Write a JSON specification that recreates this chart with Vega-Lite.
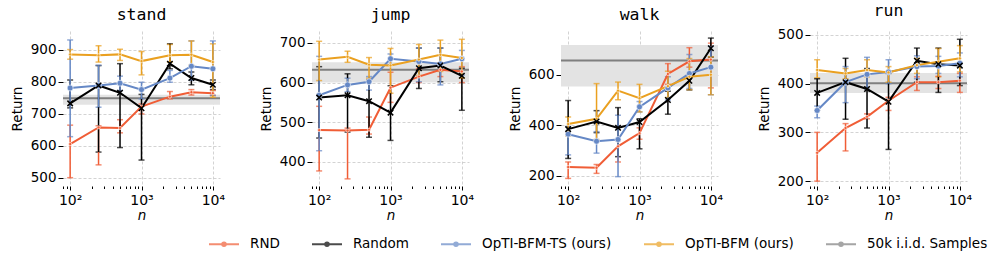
{
  "$schema": "https://vega.github.io/schema/vega-lite/v6.json",
  "padding": {"left": 10, "top": 3, "right": 5, "bottom": 5},
  "bounds": "flush",
  "spacing": 92,
  "config": {
    "font": "DejaVu Sans",
    "view": {"stroke": null},
    "axis": {"domain": false, "labelFont": "DejaVu Sans", "labelFontSize": 13.5, "labelColor": "#000", "titleFont": "DejaVu Sans", "titleFontSize": 13.5, "titleFontWeight": "normal", "titleColor": "#000", "tickColor": "#000", "tickWidth": 1, "gridColor": "#c8c8c8", "gridDash": [3, 2], "gridWidth": 0.8, "labelOverlap": false},
    "axisY": {"tickSize": 5, "labelPadding": 2, "titlePadding": 6},
    "title": {"font": "DejaVu Sans Mono", "fontSize": 16.5, "fontWeight": "normal", "color": "#000", "offset": 8},
    "legend": {"orient": "none", "legendX": 145, "legendY": 197, "direction": "horizontal", "title": null, "symbolType": "M-1,0H1M0.12,0A0.12,0.12,0,1,1,-0.12,0A0.12,0.12,0,1,1,0.12,0", "symbolSize": 900, "symbolStrokeWidth": 2, "labelFontSize": 13.5, "labelColor": "#000", "labelFont": "DejaVu Sans", "columnPadding": 28, "labelOffset": 10}
  },
  "datasets": {
    "d": [
      {"t":"stand","m":"RND","n":100,"y":605,"lo":500,"hi":664},
      {"t":"stand","m":"RND","n":250,"y":657,"lo":540,"hi":662},
      {"t":"stand","m":"RND","n":500,"y":655,"lo":640,"hi":681},
      {"t":"stand","m":"RND","n":1000,"y":722,"lo":699,"hi":730},
      {"t":"stand","m":"RND","n":2500,"y":753,"lo":746,"hi":769},
      {"t":"stand","m":"RND","n":5000,"y":767,"lo":758,"hi":775},
      {"t":"stand","m":"RND","n":10000,"y":764,"lo":757,"hi":772},
      {"t":"stand","m":"Random","n":100,"y":732,"lo":718,"hi":805},
      {"t":"stand","m":"Random","n":250,"y":788,"lo":580,"hi":850},
      {"t":"stand","m":"Random","n":500,"y":765,"lo":594,"hi":856},
      {"t":"stand","m":"Random","n":1000,"y":717,"lo":555,"hi":760},
      {"t":"stand","m":"Random","n":2500,"y":856,"lo":840,"hi":918},
      {"t":"stand","m":"Random","n":5000,"y":811,"lo":790,"hi":830},
      {"t":"stand","m":"Random","n":10000,"y":790,"lo":775,"hi":805},
      {"t":"stand","m":"OpTI-BFM-TS (ours)","n":100,"y":780,"lo":628,"hi":930},
      {"t":"stand","m":"OpTI-BFM-TS (ours)","n":250,"y":788,"lo":720,"hi":851},
      {"t":"stand","m":"OpTI-BFM-TS (ours)","n":500,"y":795,"lo":772,"hi":817},
      {"t":"stand","m":"OpTI-BFM-TS (ours)","n":1000,"y":775,"lo":746,"hi":798},
      {"t":"stand","m":"OpTI-BFM-TS (ours)","n":2500,"y":811,"lo":798,"hi":835},
      {"t":"stand","m":"OpTI-BFM-TS (ours)","n":5000,"y":848,"lo":804,"hi":927},
      {"t":"stand","m":"OpTI-BFM-TS (ours)","n":10000,"y":840,"lo":757,"hi":927},
      {"t":"stand","m":"OpTI-BFM (ours)","n":100,"y":885,"lo":870,"hi":900},
      {"t":"stand","m":"OpTI-BFM (ours)","n":250,"y":882,"lo":861,"hi":912},
      {"t":"stand","m":"OpTI-BFM (ours)","n":500,"y":885,"lo":866,"hi":901},
      {"t":"stand","m":"OpTI-BFM (ours)","n":1000,"y":864,"lo":821,"hi":894},
      {"t":"stand","m":"OpTI-BFM (ours)","n":2500,"y":882,"lo":861,"hi":916},
      {"t":"stand","m":"OpTI-BFM (ours)","n":5000,"y":884,"lo":851,"hi":927},
      {"t":"stand","m":"OpTI-BFM (ours)","n":10000,"y":861,"lo":751,"hi":918},
      {"t":"stand","m":"50k i.i.d. Samples","y":748,"lo":728,"hi":759},

      {"t":"jump","m":"RND","n":100,"y":480,"lo":377,"hi":540},
      {"t":"jump","m":"RND","n":250,"y":479,"lo":357,"hi":485},
      {"t":"jump","m":"RND","n":500,"y":481,"lo":470,"hi":513},
      {"t":"jump","m":"RND","n":1000,"y":587,"lo":550,"hi":626},
      {"t":"jump","m":"RND","n":2500,"y":615,"lo":600,"hi":635},
      {"t":"jump","m":"RND","n":5000,"y":632,"lo":615,"hi":650},
      {"t":"jump","m":"RND","n":10000,"y":628,"lo":600,"hi":640},
      {"t":"jump","m":"Random","n":100,"y":562,"lo":460,"hi":640},
      {"t":"jump","m":"Random","n":250,"y":568,"lo":475,"hi":622},
      {"t":"jump","m":"Random","n":500,"y":553,"lo":462,"hi":606},
      {"t":"jump","m":"Random","n":1000,"y":524,"lo":454,"hi":592},
      {"t":"jump","m":"Random","n":2500,"y":636,"lo":585,"hi":687},
      {"t":"jump","m":"Random","n":5000,"y":643,"lo":602,"hi":687},
      {"t":"jump","m":"Random","n":10000,"y":617,"lo":530,"hi":636},
      {"t":"jump","m":"OpTI-BFM-TS (ours)","n":100,"y":568,"lo":428,"hi":666},
      {"t":"jump","m":"OpTI-BFM-TS (ours)","n":250,"y":594,"lo":577,"hi":611},
      {"t":"jump","m":"OpTI-BFM-TS (ours)","n":500,"y":602,"lo":581,"hi":615},
      {"t":"jump","m":"OpTI-BFM-TS (ours)","n":1000,"y":660,"lo":645,"hi":672},
      {"t":"jump","m":"OpTI-BFM-TS (ours)","n":2500,"y":653,"lo":602,"hi":687},
      {"t":"jump","m":"OpTI-BFM-TS (ours)","n":5000,"y":647,"lo":594,"hi":687},
      {"t":"jump","m":"OpTI-BFM-TS (ours)","n":10000,"y":660,"lo":619,"hi":681},
      {"t":"jump","m":"OpTI-BFM (ours)","n":100,"y":658,"lo":605,"hi":704},
      {"t":"jump","m":"OpTI-BFM (ours)","n":250,"y":665,"lo":651,"hi":679},
      {"t":"jump","m":"OpTI-BFM (ours)","n":500,"y":645,"lo":611,"hi":663},
      {"t":"jump","m":"OpTI-BFM (ours)","n":1000,"y":643,"lo":573,"hi":686},
      {"t":"jump","m":"OpTI-BFM (ours)","n":2500,"y":658,"lo":618,"hi":696},
      {"t":"jump","m":"OpTI-BFM (ours)","n":5000,"y":670,"lo":628,"hi":707},
      {"t":"jump","m":"OpTI-BFM (ours)","n":10000,"y":662,"lo":611,"hi":709},
      {"t":"jump","m":"50k i.i.d. Samples","y":632,"lo":600,"hi":651},

      {"t":"walk","m":"RND","n":100,"y":235,"lo":190,"hi":255},
      {"t":"walk","m":"RND","n":250,"y":232,"lo":210,"hi":245},
      {"t":"walk","m":"RND","n":500,"y":317,"lo":255,"hi":340},
      {"t":"walk","m":"RND","n":1000,"y":369,"lo":345,"hi":390},
      {"t":"walk","m":"RND","n":2500,"y":603,"lo":562,"hi":644},
      {"t":"walk","m":"RND","n":5000,"y":653,"lo":630,"hi":707},
      {"t":"walk","m":"RND","n":10000,"y":660,"lo":548,"hi":725},
      {"t":"walk","m":"Random","n":100,"y":385,"lo":269,"hi":498},
      {"t":"walk","m":"Random","n":250,"y":415,"lo":371,"hi":458},
      {"t":"walk","m":"Random","n":500,"y":390,"lo":276,"hi":470},
      {"t":"walk","m":"Random","n":1000,"y":413,"lo":307,"hi":426},
      {"t":"walk","m":"Random","n":2500,"y":500,"lo":444,"hi":535},
      {"t":"walk","m":"Random","n":5000,"y":576,"lo":540,"hi":590},
      {"t":"walk","m":"Random","n":10000,"y":705,"lo":670,"hi":745},
      {"t":"walk","m":"OpTI-BFM-TS (ours)","n":100,"y":365,"lo":283,"hi":395},
      {"t":"walk","m":"OpTI-BFM-TS (ours)","n":250,"y":337,"lo":290,"hi":375},
      {"t":"walk","m":"OpTI-BFM-TS (ours)","n":500,"y":344,"lo":197,"hi":440},
      {"t":"walk","m":"OpTI-BFM-TS (ours)","n":1000,"y":473,"lo":453,"hi":494},
      {"t":"walk","m":"OpTI-BFM-TS (ours)","n":2500,"y":548,"lo":500,"hi":592},
      {"t":"walk","m":"OpTI-BFM-TS (ours)","n":5000,"y":605,"lo":546,"hi":680},
      {"t":"walk","m":"OpTI-BFM-TS (ours)","n":10000,"y":630,"lo":521,"hi":712},
      {"t":"walk","m":"OpTI-BFM (ours)","n":100,"y":405,"lo":358,"hi":433},
      {"t":"walk","m":"OpTI-BFM (ours)","n":250,"y":426,"lo":344,"hi":565},
      {"t":"walk","m":"OpTI-BFM (ours)","n":500,"y":537,"lo":501,"hi":571},
      {"t":"walk","m":"OpTI-BFM (ours)","n":1000,"y":507,"lo":453,"hi":562},
      {"t":"walk","m":"OpTI-BFM (ours)","n":2500,"y":555,"lo":510,"hi":614},
      {"t":"walk","m":"OpTI-BFM (ours)","n":5000,"y":592,"lo":541,"hi":664},
      {"t":"walk","m":"OpTI-BFM (ours)","n":10000,"y":600,"lo":521,"hi":671},
      {"t":"walk","m":"50k i.i.d. Samples","y":656,"lo":554,"hi":718},

      {"t":"run","m":"RND","n":100,"y":258,"lo":200,"hi":300},
      {"t":"run","m":"RND","n":250,"y":309,"lo":262,"hi":318},
      {"t":"run","m":"RND","n":500,"y":332,"lo":328,"hi":338},
      {"t":"run","m":"RND","n":1000,"y":365,"lo":345,"hi":372},
      {"t":"run","m":"RND","n":2500,"y":403,"lo":386,"hi":414},
      {"t":"run","m":"RND","n":5000,"y":403,"lo":390,"hi":415},
      {"t":"run","m":"RND","n":10000,"y":406,"lo":382,"hi":421},
      {"t":"run","m":"Random","n":100,"y":381,"lo":345,"hi":410},
      {"t":"run","m":"Random","n":250,"y":403,"lo":327,"hi":452},
      {"t":"run","m":"Random","n":500,"y":389,"lo":309,"hi":431},
      {"t":"run","m":"Random","n":1000,"y":363,"lo":265,"hi":421},
      {"t":"run","m":"Random","n":2500,"y":447,"lo":403,"hi":473},
      {"t":"run","m":"Random","n":5000,"y":440,"lo":382,"hi":473},
      {"t":"run","m":"Random","n":10000,"y":437,"lo":396,"hi":491},
      {"t":"run","m":"OpTI-BFM-TS (ours)","n":100,"y":345,"lo":330,"hi":354},
      {"t":"run","m":"OpTI-BFM-TS (ours)","n":250,"y":403,"lo":361,"hi":435},
      {"t":"run","m":"OpTI-BFM-TS (ours)","n":500,"y":419,"lo":389,"hi":454},
      {"t":"run","m":"OpTI-BFM-TS (ours)","n":1000,"y":424,"lo":400,"hi":449},
      {"t":"run","m":"OpTI-BFM-TS (ours)","n":2500,"y":435,"lo":410,"hi":457},
      {"t":"run","m":"OpTI-BFM-TS (ours)","n":5000,"y":436,"lo":421,"hi":456},
      {"t":"run","m":"OpTI-BFM-TS (ours)","n":10000,"y":442,"lo":414,"hi":463},
      {"t":"run","m":"OpTI-BFM (ours)","n":100,"y":428,"lo":412,"hi":449},
      {"t":"run","m":"OpTI-BFM (ours)","n":250,"y":421,"lo":410,"hi":431},
      {"t":"run","m":"OpTI-BFM (ours)","n":500,"y":428,"lo":414,"hi":449},
      {"t":"run","m":"OpTI-BFM (ours)","n":1000,"y":423,"lo":403,"hi":435},
      {"t":"run","m":"OpTI-BFM (ours)","n":2500,"y":438,"lo":421,"hi":452},
      {"t":"run","m":"OpTI-BFM (ours)","n":5000,"y":445,"lo":414,"hi":472},
      {"t":"run","m":"OpTI-BFM (ours)","n":10000,"y":452,"lo":424,"hi":478},
      {"t":"run","m":"50k i.i.d. Samples","y":401,"lo":381,"hi":422}
    ]
  },
  "hconcat": [
    {
      "title": "stand", "width": 157, "height": 155,
      "data": {"name": "d"},
      "transform": [{"filter": "datum.t=='stand'"}],
      "layer": [
        {"transform": [{"filter": "datum.m=='50k i.i.d. Samples'"}], "mark": {"type": "rect", "color": "#e3e3e3"},
         "encoding": {"y": {"field": "lo", "type": "quantitative", "title": "Return", "scale": {"domain": [474, 958], "nice": false, "zero": false}, "axis": {"values": [500, 600, 700, 800, 900], "title": "Return"}}, "y2": {"field": "hi"}}},
        {"transform": [{"filter": "datum.m=='50k i.i.d. Samples'"}], "mark": {"type": "rule", "color": "#7f7f7f", "strokeWidth": 2},
         "encoding": {"y": {"field": "y", "type": "quantitative", "title": "Return", "scale": {"domain": [474, 958], "nice": false, "zero": false}, "axis": {"values": [500, 600, 700, 800, 900], "title": "Return"}}}},
        {"transform": [{"filter": "datum.m!='50k i.i.d. Samples'"}], "mark": {"type": "errorbar", "ticks": true, "size": 6, "thickness": 1.5},
         "encoding": {"x": {"field": "n", "type": "quantitative", "title": "n", "scale": {"type": "log", "domain": [79.4, 12590], "nice": false},
           "axis": {"values": [80, 90, 100, 200, 300, 400, 500, 600, 700, 800, 900, 1000, 2000, 3000, 4000, 5000, 6000, 7000, 8000, 9000, 10000], "labelExpr": "datum.value==100?'10²':datum.value==1000?'10³':datum.value==10000?'10⁴':''", "labelFontSize": 14, "labelPadding": 3, "title": "n", "titleFontStyle": "italic", "titlePadding": 1, "gridOpacity": {"condition": {"test": "datum.value==100||datum.value==1000||datum.value==10000", "value": 1}, "value": 0}, "tickSize": {"condition": {"test": "datum.value==100||datum.value==1000||datum.value==10000", "value": 4}, "value": 2.5}}},
           "y": {"field": "lo", "type": "quantitative", "title": "Return", "scale": {"domain": [474, 958], "nice": false, "zero": false}, "axis": {"values": [500, 600, 700, 800, 900], "title": "Return"}}, "y2": {"field": "hi"},
           "color": {"field": "m", "type": "nominal"}}},
        {"transform": [{"filter": "datum.m!='50k i.i.d. Samples'"}], "mark": {"type": "line", "strokeWidth": 2},
         "encoding": {"x": {"field": "n", "type": "quantitative", "title": "n"}, "y": {"field": "y", "type": "quantitative", "title": "Return", "scale": {"domain": [474, 958], "nice": false, "zero": false}, "axis": {"values": [500, 600, 700, 800, 900], "title": "Return"}},
           "color": {"field": "m", "type": "nominal", "scale": {"domain": ["RND", "Random", "OpTI-BFM-TS (ours)", "OpTI-BFM (ours)", "50k i.i.d. Samples"], "range": ["#f05d36", "#000000", "#6588c6", "#eaa020", "#7f7f7f"]}}}},
        {"transform": [{"filter": "datum.m!='50k i.i.d. Samples' && datum.m!='Random'"}], "mark": {"type": "point", "filled": true, "shape": "circle", "stroke": "#fff", "strokeWidth": 0.6, "opacity": 1},
         "encoding": {"x": {"field": "n", "type": "quantitative", "title": "n"}, "y": {"field": "y", "type": "quantitative", "title": "Return", "scale": {"domain": [474, 958], "nice": false, "zero": false}, "axis": {"values": [500, 600, 700, 800, 900], "title": "Return"}},
           "color": {"field": "m", "type": "nominal"},
           "size": {"condition": {"test": "datum.m=='OpTI-BFM-TS (ours)'", "value": 36}, "value": 10}}},
        {"transform": [{"filter": "datum.m=='Random'"}], "mark": {"type": "point", "filled": false, "shape": "M-1,-1L1,1M1,-1L-1,1", "size": 30, "strokeWidth": 1.5, "color": "#000", "opacity": 1},
         "encoding": {"x": {"field": "n", "type": "quantitative", "title": "n"}, "y": {"field": "y", "type": "quantitative", "title": "Return", "scale": {"domain": [474, 958], "nice": false, "zero": false}, "axis": {"values": [500, 600, 700, 800, 900], "title": "Return"}}}}
      ]
    },
    {
      "title": "jump", "width": 157, "height": 155,
      "data": {"name": "d"},
      "transform": [{"filter": "datum.t=='jump'"}],
      "layer": [
        {"transform": [{"filter": "datum.m=='50k i.i.d. Samples'"}], "mark": {"type": "rect", "color": "#e3e3e3"},
         "encoding": {"y": {"field": "lo", "type": "quantitative", "title": "Return", "scale": {"domain": [339, 730], "nice": false, "zero": false}, "axis": {"values": [400, 500, 600, 700], "title": "Return"}}, "y2": {"field": "hi"}}},
        {"transform": [{"filter": "datum.m=='50k i.i.d. Samples'"}], "mark": {"type": "rule", "color": "#7f7f7f", "strokeWidth": 2},
         "encoding": {"y": {"field": "y", "type": "quantitative", "title": "Return", "scale": {"domain": [339, 730], "nice": false, "zero": false}, "axis": {"values": [400, 500, 600, 700], "title": "Return"}}}},
        {"transform": [{"filter": "datum.m!='50k i.i.d. Samples'"}], "mark": {"type": "errorbar", "ticks": true, "size": 6, "thickness": 1.5},
         "encoding": {"x": {"field": "n", "type": "quantitative", "title": "n", "scale": {"type": "log", "domain": [79.4, 12590], "nice": false},
           "axis": {"values": [80, 90, 100, 200, 300, 400, 500, 600, 700, 800, 900, 1000, 2000, 3000, 4000, 5000, 6000, 7000, 8000, 9000, 10000], "labelExpr": "datum.value==100?'10²':datum.value==1000?'10³':datum.value==10000?'10⁴':''", "labelFontSize": 14, "labelPadding": 3, "title": "n", "titleFontStyle": "italic", "titlePadding": 1, "gridOpacity": {"condition": {"test": "datum.value==100||datum.value==1000||datum.value==10000", "value": 1}, "value": 0}, "tickSize": {"condition": {"test": "datum.value==100||datum.value==1000||datum.value==10000", "value": 4}, "value": 2.5}}},
           "y": {"field": "lo", "type": "quantitative", "title": "Return", "scale": {"domain": [339, 730], "nice": false, "zero": false}, "axis": {"values": [400, 500, 600, 700], "title": "Return"}}, "y2": {"field": "hi"},
           "color": {"field": "m", "type": "nominal"}}},
        {"transform": [{"filter": "datum.m!='50k i.i.d. Samples'"}], "mark": {"type": "line", "strokeWidth": 2},
         "encoding": {"x": {"field": "n", "type": "quantitative", "title": "n"}, "y": {"field": "y", "type": "quantitative", "title": "Return", "scale": {"domain": [339, 730], "nice": false, "zero": false}, "axis": {"values": [400, 500, 600, 700], "title": "Return"}},
           "color": {"field": "m", "type": "nominal"}}},
        {"transform": [{"filter": "datum.m!='50k i.i.d. Samples' && datum.m!='Random'"}], "mark": {"type": "point", "filled": true, "shape": "circle", "stroke": "#fff", "strokeWidth": 0.6, "opacity": 1},
         "encoding": {"x": {"field": "n", "type": "quantitative", "title": "n"}, "y": {"field": "y", "type": "quantitative", "title": "Return", "scale": {"domain": [339, 730], "nice": false, "zero": false}, "axis": {"values": [400, 500, 600, 700], "title": "Return"}},
           "color": {"field": "m", "type": "nominal"},
           "size": {"condition": {"test": "datum.m=='OpTI-BFM-TS (ours)'", "value": 36}, "value": 10}}},
        {"transform": [{"filter": "datum.m=='Random'"}], "mark": {"type": "point", "filled": false, "shape": "M-1,-1L1,1M1,-1L-1,1", "size": 30, "strokeWidth": 1.5, "color": "#000", "opacity": 1},
         "encoding": {"x": {"field": "n", "type": "quantitative", "title": "n"}, "y": {"field": "y", "type": "quantitative", "title": "Return", "scale": {"domain": [339, 730], "nice": false, "zero": false}, "axis": {"values": [400, 500, 600, 700], "title": "Return"}}}}
      ]
    },
    {
      "title": "walk", "width": 157, "height": 155,
      "data": {"name": "d"},
      "transform": [{"filter": "datum.t=='walk'"}],
      "layer": [
        {"transform": [{"filter": "datum.m=='50k i.i.d. Samples'"}], "mark": {"type": "rect", "color": "#e3e3e3"},
         "encoding": {"y": {"field": "lo", "type": "quantitative", "title": "Return", "scale": {"domain": [160, 773], "nice": false, "zero": false}, "axis": {"values": [200, 400, 600], "title": "Return"}}, "y2": {"field": "hi"}}},
        {"transform": [{"filter": "datum.m=='50k i.i.d. Samples'"}], "mark": {"type": "rule", "color": "#7f7f7f", "strokeWidth": 2},
         "encoding": {"y": {"field": "y", "type": "quantitative", "title": "Return", "scale": {"domain": [160, 773], "nice": false, "zero": false}, "axis": {"values": [200, 400, 600], "title": "Return"}}}},
        {"transform": [{"filter": "datum.m!='50k i.i.d. Samples'"}], "mark": {"type": "errorbar", "ticks": true, "size": 6, "thickness": 1.5},
         "encoding": {"x": {"field": "n", "type": "quantitative", "title": "n", "scale": {"type": "log", "domain": [79.4, 12590], "nice": false},
           "axis": {"values": [80, 90, 100, 200, 300, 400, 500, 600, 700, 800, 900, 1000, 2000, 3000, 4000, 5000, 6000, 7000, 8000, 9000, 10000], "labelExpr": "datum.value==100?'10²':datum.value==1000?'10³':datum.value==10000?'10⁴':''", "labelFontSize": 14, "labelPadding": 3, "title": "n", "titleFontStyle": "italic", "titlePadding": 1, "gridOpacity": {"condition": {"test": "datum.value==100||datum.value==1000||datum.value==10000", "value": 1}, "value": 0}, "tickSize": {"condition": {"test": "datum.value==100||datum.value==1000||datum.value==10000", "value": 4}, "value": 2.5}}},
           "y": {"field": "lo", "type": "quantitative", "title": "Return", "scale": {"domain": [160, 773], "nice": false, "zero": false}, "axis": {"values": [200, 400, 600], "title": "Return"}}, "y2": {"field": "hi"},
           "color": {"field": "m", "type": "nominal"}}},
        {"transform": [{"filter": "datum.m!='50k i.i.d. Samples'"}], "mark": {"type": "line", "strokeWidth": 2},
         "encoding": {"x": {"field": "n", "type": "quantitative", "title": "n"}, "y": {"field": "y", "type": "quantitative", "title": "Return", "scale": {"domain": [160, 773], "nice": false, "zero": false}, "axis": {"values": [200, 400, 600], "title": "Return"}},
           "color": {"field": "m", "type": "nominal"}}},
        {"transform": [{"filter": "datum.m!='50k i.i.d. Samples' && datum.m!='Random'"}], "mark": {"type": "point", "filled": true, "shape": "circle", "stroke": "#fff", "strokeWidth": 0.6, "opacity": 1},
         "encoding": {"x": {"field": "n", "type": "quantitative", "title": "n"}, "y": {"field": "y", "type": "quantitative", "title": "Return", "scale": {"domain": [160, 773], "nice": false, "zero": false}, "axis": {"values": [200, 400, 600], "title": "Return"}},
           "color": {"field": "m", "type": "nominal"},
           "size": {"condition": {"test": "datum.m=='OpTI-BFM-TS (ours)'", "value": 36}, "value": 10}}},
        {"transform": [{"filter": "datum.m=='Random'"}], "mark": {"type": "point", "filled": false, "shape": "M-1,-1L1,1M1,-1L-1,1", "size": 30, "strokeWidth": 1.5, "color": "#000", "opacity": 1},
         "encoding": {"x": {"field": "n", "type": "quantitative", "title": "n"}, "y": {"field": "y", "type": "quantitative", "title": "Return", "scale": {"domain": [160, 773], "nice": false, "zero": false}, "axis": {"values": [200, 400, 600], "title": "Return"}}}}
      ]
    },
    {
      "title": "run", "width": 157, "height": 155,
      "data": {"name": "d"},
      "transform": [{"filter": "datum.t=='run'"}],
      "layer": [
        {"transform": [{"filter": "datum.m=='50k i.i.d. Samples'"}], "mark": {"type": "rect", "color": "#e3e3e3"},
         "encoding": {"y": {"field": "lo", "type": "quantitative", "title": "Return", "scale": {"domain": [190, 508], "nice": false, "zero": false}, "axis": {"values": [200, 300, 400, 500], "title": "Return"}}, "y2": {"field": "hi"}}},
        {"transform": [{"filter": "datum.m=='50k i.i.d. Samples'"}], "mark": {"type": "rule", "color": "#7f7f7f", "strokeWidth": 2},
         "encoding": {"y": {"field": "y", "type": "quantitative", "title": "Return", "scale": {"domain": [190, 508], "nice": false, "zero": false}, "axis": {"values": [200, 300, 400, 500], "title": "Return"}}}},
        {"transform": [{"filter": "datum.m!='50k i.i.d. Samples'"}], "mark": {"type": "errorbar", "ticks": true, "size": 6, "thickness": 1.5},
         "encoding": {"x": {"field": "n", "type": "quantitative", "title": "n", "scale": {"type": "log", "domain": [79.4, 12590], "nice": false},
           "axis": {"values": [80, 90, 100, 200, 300, 400, 500, 600, 700, 800, 900, 1000, 2000, 3000, 4000, 5000, 6000, 7000, 8000, 9000, 10000], "labelExpr": "datum.value==100?'10²':datum.value==1000?'10³':datum.value==10000?'10⁴':''", "labelFontSize": 14, "labelPadding": 3, "title": "n", "titleFontStyle": "italic", "titlePadding": 1, "gridOpacity": {"condition": {"test": "datum.value==100||datum.value==1000||datum.value==10000", "value": 1}, "value": 0}, "tickSize": {"condition": {"test": "datum.value==100||datum.value==1000||datum.value==10000", "value": 4}, "value": 2.5}}},
           "y": {"field": "lo", "type": "quantitative", "title": "Return", "scale": {"domain": [190, 508], "nice": false, "zero": false}, "axis": {"values": [200, 300, 400, 500], "title": "Return"}}, "y2": {"field": "hi"},
           "color": {"field": "m", "type": "nominal"}}},
        {"transform": [{"filter": "datum.m!='50k i.i.d. Samples'"}], "mark": {"type": "line", "strokeWidth": 2},
         "encoding": {"x": {"field": "n", "type": "quantitative", "title": "n"}, "y": {"field": "y", "type": "quantitative", "title": "Return", "scale": {"domain": [190, 508], "nice": false, "zero": false}, "axis": {"values": [200, 300, 400, 500], "title": "Return"}},
           "color": {"field": "m", "type": "nominal"}}},
        {"transform": [{"filter": "datum.m!='50k i.i.d. Samples' && datum.m!='Random'"}], "mark": {"type": "point", "filled": true, "shape": "circle", "stroke": "#fff", "strokeWidth": 0.6, "opacity": 1},
         "encoding": {"x": {"field": "n", "type": "quantitative", "title": "n"}, "y": {"field": "y", "type": "quantitative", "title": "Return", "scale": {"domain": [190, 508], "nice": false, "zero": false}, "axis": {"values": [200, 300, 400, 500], "title": "Return"}},
           "color": {"field": "m", "type": "nominal"},
           "size": {"condition": {"test": "datum.m=='OpTI-BFM-TS (ours)'", "value": 36}, "value": 10}}},
        {"transform": [{"filter": "datum.m=='Random'"}], "mark": {"type": "point", "filled": false, "shape": "M-1,-1L1,1M1,-1L-1,1", "size": 30, "strokeWidth": 1.5, "color": "#000", "opacity": 1},
         "encoding": {"x": {"field": "n", "type": "quantitative", "title": "n"}, "y": {"field": "y", "type": "quantitative", "title": "Return", "scale": {"domain": [190, 508], "nice": false, "zero": false}, "axis": {"values": [200, 300, 400, 500], "title": "Return"}}}}
      ]
    }
  ]
}
